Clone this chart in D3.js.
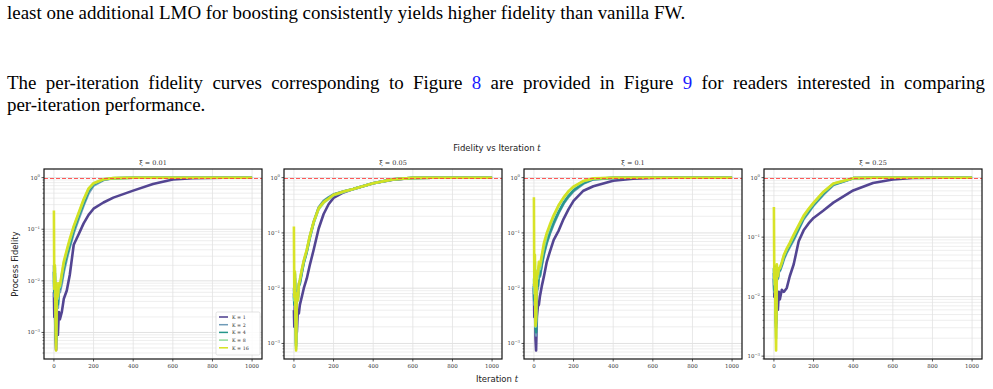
<!DOCTYPE html>
<html>
<head>
<meta charset="utf-8">
<script src="https://cdn.jsdelivr.net/npm/d3@7"></script>
<style>
  body { margin: 0; background: #fff; }
  svg { display: block; }
  .para { font-family: "Liberation Serif", "Times New Roman", Times, serif; }
</style>
</head>
<body>
<div id="chart"></div>
<script>
// iteration grid shared by every curve
const iters = [0, 2, 5, 8, 11, 15, 20, 25, 30, 40, 50, 65, 80, 100, 125, 150, 175, 200, 250, 300, 400, 500, 600, 700, 850, 1000];

const kValues = [1, 2, 4, 8, 16];
const kColors = ["#4a3b8c", "#6f9bb8", "#24968a", "#8edc98", "#d6e21c"];
const xiValues = ["0.01", "0.05", "0.1", "0.25"];
const xTicks = [0, 200, 400, 600, 800, 1000];

// xi = 0.01
const xi001_k1 = [0.006, 0.002, 0.004, 0.0008, 0.00046, 0.0015, 0.0009, 0.0025, 0.0018, 0.0025, 0.0045, 0.0065, 0.013, 0.05, 0.08, 0.13, 0.19, 0.25, 0.33, 0.41, 0.56, 0.75, 0.92, 0.98, 0.995, 0.995];
const xi001_k2 = [0.02, 0.005, 0.012, 0.002, 0.0006, 0.004, 0.003, 0.006, 0.006, 0.009, 0.015, 0.027, 0.045, 0.085, 0.16, 0.29, 0.5, 0.7, 0.9, 0.97, 0.993, 0.995, 0.995, 0.995, 0.995, 0.995];
const xi001_k4 = [0.015, 0.006, 0.014, 0.0025, 0.0007, 0.005, 0.0035, 0.007, 0.007, 0.011, 0.018, 0.031, 0.05, 0.095, 0.18, 0.32, 0.55, 0.74, 0.92, 0.975, 0.994, 0.995, 0.995, 0.995, 0.995, 0.995];
const xi001_k8 = [0.01, 0.007, 0.018, 0.003, 0.0005, 0.007, 0.0045, 0.008, 0.0075, 0.013, 0.022, 0.037, 0.06, 0.11, 0.2, 0.36, 0.6, 0.77, 0.93, 0.98, 0.995, 0.995, 0.995, 0.995, 0.995, 0.995];
const xi001_k16 = [0.23, 0.007, 0.02, 0.003, 0.00045, 0.009, 0.005, 0.009, 0.008, 0.014, 0.024, 0.04, 0.065, 0.115, 0.21, 0.38, 0.62, 0.78, 0.93, 0.98, 0.995, 0.995, 0.995, 0.995, 0.995, 0.995];

// xi = 0.05
const xi005_k1 = [0.004, 0.002, 0.006, 0.003, 0.0025, 0.0016, 0.004, 0.0035, 0.005, 0.007, 0.01, 0.015, 0.026, 0.05, 0.12, 0.22, 0.33, 0.43, 0.54, 0.62, 0.79, 0.92, 0.985, 0.995, 0.995, 0.995];
const xi005_k2 = [0.01, 0.006, 0.018, 0.004, 0.001, 0.009, 0.007, 0.012, 0.013, 0.02, 0.03, 0.047, 0.085, 0.16, 0.29, 0.38, 0.44, 0.5, 0.56, 0.62, 0.79, 0.93, 0.99, 0.995, 0.995, 0.995];
const xi005_k4 = [0.008, 0.005, 0.015, 0.0035, 0.0009, 0.008, 0.0065, 0.011, 0.012, 0.019, 0.029, 0.045, 0.08, 0.155, 0.28, 0.37, 0.43, 0.49, 0.56, 0.62, 0.79, 0.93, 0.99, 0.995, 0.995, 0.995];
const xi005_k8 = [0.007, 0.006, 0.019, 0.003, 0.0008, 0.008, 0.006, 0.012, 0.014, 0.021, 0.031, 0.048, 0.085, 0.155, 0.27, 0.35, 0.41, 0.48, 0.55, 0.62, 0.79, 0.93, 0.99, 0.995, 0.995, 0.995];
const xi005_k16 = [0.13, 0.007, 0.02, 0.003, 0.00075, 0.008, 0.006, 0.012, 0.014, 0.022, 0.032, 0.05, 0.088, 0.16, 0.28, 0.36, 0.42, 0.49, 0.56, 0.62, 0.79, 0.93, 0.99, 0.995, 0.995, 0.995];

// xi = 0.1
const xi010_k1 = [0.01, 0.003, 0.008, 0.0012, 0.00075, 0.003, 0.0047, 0.005, 0.007, 0.011, 0.016, 0.03, 0.045, 0.075, 0.11, 0.18, 0.27, 0.38, 0.58, 0.7, 0.88, 0.96, 0.985, 0.995, 0.995, 0.995];
const xi010_k2 = [0.012, 0.005, 0.02, 0.0025, 0.0014, 0.009, 0.01, 0.016, 0.016, 0.026, 0.04, 0.065, 0.095, 0.145, 0.23, 0.34, 0.45, 0.57, 0.78, 0.93, 0.99, 0.995, 0.995, 0.995, 0.995, 0.995];
const xi010_k4 = [0.011, 0.006, 0.022, 0.0022, 0.0016, 0.011, 0.011, 0.018, 0.017, 0.028, 0.043, 0.07, 0.1, 0.155, 0.24, 0.35, 0.47, 0.59, 0.8, 0.94, 0.99, 0.995, 0.995, 0.995, 0.995, 0.995];
const xi010_k8 = [0.015, 0.008, 0.03, 0.002, 0.0025, 0.016, 0.015, 0.025, 0.022, 0.036, 0.055, 0.09, 0.13, 0.2, 0.31, 0.43, 0.56, 0.68, 0.86, 0.965, 0.995, 0.995, 0.995, 0.995, 0.995, 0.995];
const xi010_k16 = [0.44, 0.011, 0.04, 0.0021, 0.003, 0.02, 0.018, 0.03, 0.025, 0.04, 0.065, 0.1, 0.14, 0.21, 0.32, 0.44, 0.57, 0.69, 0.87, 0.97, 0.995, 0.995, 0.995, 0.995, 0.995, 0.995];

// xi = 0.25
const xi025_k1 = [0.02, 0.01, 0.03, 0.008, 0.0036, 0.008, 0.006, 0.012, 0.009, 0.013, 0.012, 0.014, 0.022, 0.035, 0.085, 0.13, 0.17, 0.21, 0.28, 0.38, 0.61, 0.81, 0.93, 0.985, 0.995, 0.995];
const xi025_k2 = [0.03, 0.012, 0.03, 0.006, 0.0035, 0.025, 0.02, 0.026, 0.027, 0.033, 0.042, 0.055, 0.068, 0.09, 0.135, 0.2, 0.26, 0.34, 0.52, 0.75, 0.98, 0.995, 0.995, 0.995, 0.995, 0.995];
const xi025_k4 = [0.025, 0.013, 0.032, 0.005, 0.003, 0.028, 0.021, 0.028, 0.028, 0.035, 0.045, 0.058, 0.072, 0.095, 0.14, 0.21, 0.27, 0.35, 0.54, 0.77, 0.98, 0.995, 0.995, 0.995, 0.995, 0.995];
const xi025_k8 = [0.03, 0.016, 0.03, 0.005, 0.002, 0.032, 0.022, 0.03, 0.03, 0.037, 0.048, 0.062, 0.077, 0.105, 0.155, 0.22, 0.29, 0.37, 0.57, 0.79, 0.98, 0.995, 0.995, 0.995, 0.995, 0.995];
const xi025_k16 = [0.32, 0.02, 0.03, 0.005, 0.00125, 0.035, 0.022, 0.03, 0.03, 0.038, 0.05, 0.065, 0.08, 0.11, 0.16, 0.23, 0.3, 0.38, 0.58, 0.8, 0.98, 0.995, 0.995, 0.995, 0.995, 0.995];

const panelSeries = [
  [xi001_k1, xi001_k2, xi001_k4, xi001_k8, xi001_k16],
  [xi005_k1, xi005_k2, xi005_k4, xi005_k8, xi005_k16],
  [xi010_k1, xi010_k2, xi010_k4, xi010_k8, xi010_k16],
  [xi025_k1, xi025_k2, xi025_k4, xi025_k8, xi025_k16]
];

const W = 993, H = 389;
const svg = d3.select("#chart").append("svg")
  .attr("width", W).attr("height", H)
  .style("background", "#fff");

// ---- paper text above the figure ----
const para = svg.append("g").attr("class", "para").attr("fill", "#000");

const l1 = para.append("text").attr("x", 7).attr("y", 19)
  .style("font-size", "17.5px")
  .text("least one additional LMO for boosting consistently yields higher fidelity than vanilla FW.");
// size the body font so the first (unjustified) line ends where it does in the page
const fs = 17.5 * 679 / l1.node().getComputedTextLength();
l1.style("font-size", fs + "px");

const l2 = para.append("text").attr("x", 7).attr("y", 89).style("font-size", fs + "px");
l2.append("tspan").text("The per-iteration fidelity curves corresponding to Figure ");
l2.append("tspan").attr("fill", "#1a1aff").text("8");
l2.append("tspan").text(" are provided in Figure ");
l2.append("tspan").attr("fill", "#1a1aff").text("9");
l2.append("tspan").text(" for readers interested in comparing");
// justify: spread the spare width over the word gaps
const spaces = (l2.text().match(/ /g) || []).length;
const spare = 978 - l2.node().getComputedTextLength();
l2.style("word-spacing", (spare / spaces) + "px");

para.append("text").attr("x", 7).attr("y", 111).style("font-size", fs + "px")
  .text("per-iteration performance.");

// ---- figure ----
const sans = "'DejaVu Sans', sans-serif";
const tickFont = "'DejaVu Serif', serif";

const panelLeft = 44, panelStep = 240, panelTop = 169;
const pw = 218, ph = 190;

const title = svg.append("text")
  .attr("x", 497).attr("y", 151)
  .attr("text-anchor", "middle")
  .attr("font-family", sans).attr("font-size", 8.5).attr("fill", "#222");
title.append("tspan").text("Fidelity vs Iteration ");
title.append("tspan").attr("font-family", tickFont).attr("font-style", "italic").text("t");

const xlab = svg.append("text")
  .attr("x", 497).attr("y", 382)
  .attr("text-anchor", "middle")
  .attr("font-family", sans).attr("font-size", 8.5).attr("fill", "#222");
xlab.append("tspan").text("Iteration ");
xlab.append("tspan").attr("font-family", tickFont).attr("font-style", "italic").text("t");

svg.append("text")
  .attr("transform", "translate(18,264) rotate(-90)")
  .attr("text-anchor", "middle")
  .attr("font-family", sans).attr("font-size", 8.5).attr("fill", "#222")
  .text("Process Fidelity");

const x = d3.scaleLinear().domain([-50, 1050]).range([0, pw]);

panelSeries.forEach((seriesList, p) => {
  const g = svg.append("g")
    .attr("transform", `translate(${panelLeft + p * panelStep},${panelTop})`);

  // log-scale limits with 5% padding in log space, like matplotlib
  const allVals = seriesList.flat();
  const lmin = Math.log10(d3.min(allVals));
  const lmax = Math.log10(Math.max(1, d3.max(allVals)));
  const pad = 0.05 * (lmax - lmin);
  const y = d3.scaleLog()
    .domain([Math.pow(10, lmin - pad), Math.pow(10, lmax + pad)])
    .range([ph, 0]);

  const majors = [];
  const minors = [];
  for (let e = -4; e <= 0; e++) {
    const v = Math.pow(10, e);
    if (v >= y.domain()[0] && v <= y.domain()[1]) majors.push(v);
    for (let k = 2; k <= 9; k++) {
      const m = k * v;
      if (m >= y.domain()[0] && m <= y.domain()[1]) minors.push(m);
    }
  }

  // grid
  g.selectAll(".gminor").data(minors).enter().append("line")
    .attr("x1", 0).attr("x2", pw)
    .attr("y1", d => y(d)).attr("y2", d => y(d))
    .attr("stroke", "#e6e6e6").attr("stroke-width", 0.7);
  g.selectAll(".gmajor").data(majors).enter().append("line")
    .attr("x1", 0).attr("x2", pw)
    .attr("y1", d => y(d)).attr("y2", d => y(d))
    .attr("stroke", "#d9d9d9").attr("stroke-width", 0.8);
  g.selectAll(".gx").data(xTicks).enter().append("line")
    .attr("x1", d => x(d)).attr("x2", d => x(d))
    .attr("y1", 0).attr("y2", ph)
    .attr("stroke", "#e2e2e2").attr("stroke-width", 0.8);

  // curves
  const line = d3.line()
    .x((d, i) => x(iters[i]))
    .y(d => y(d));

  const plot = g.append("g");
  seriesList.forEach((vals, s) => {
    plot.append("path")
      .datum(vals)
      .attr("d", line)
      .attr("fill", "none")
      .attr("stroke", kColors[s])
      .attr("stroke-width", 2.6)
      .attr("stroke-linejoin", "round")
      .attr("stroke-opacity", 0.95);
  });

  // target fidelity
  g.append("line")
    .attr("x1", 0).attr("x2", pw)
    .attr("y1", Math.round(y(1)) + 0.5).attr("y2", Math.round(y(1)) + 0.5)
    .attr("stroke", "#ff3b3b").attr("stroke-opacity", 0.85)
    .attr("stroke-width", 1).attr("stroke-dasharray", "4,2");

  // frame
  g.append("rect")
    .attr("width", pw).attr("height", ph)
    .attr("fill", "none").attr("stroke", "#111").attr("stroke-width", 1.2);

  // x ticks
  g.selectAll(".xt").data(xTicks).enter().append("line")
    .attr("x1", d => x(d)).attr("x2", d => x(d))
    .attr("y1", ph).attr("y2", ph + 2.5)
    .attr("stroke", "#111").attr("stroke-width", 0.7);
  g.selectAll(".xl").data(xTicks).enter().append("text")
    .attr("x", d => x(d)).attr("y", ph + 9)
    .attr("text-anchor", "middle")
    .attr("font-family", tickFont).attr("font-size", 5.5).attr("fill", "#333")
    .text(d => d);

  // y ticks
  g.selectAll(".ymt").data(minors).enter().append("line")
    .attr("x1", -1.5).attr("x2", 0)
    .attr("y1", d => y(d)).attr("y2", d => y(d))
    .attr("stroke", "#111").attr("stroke-width", 0.5);
  g.selectAll(".yMt").data(majors).enter().append("line")
    .attr("x1", -2.5).attr("x2", 0)
    .attr("y1", d => y(d)).attr("y2", d => y(d))
    .attr("stroke", "#111").attr("stroke-width", 0.7);
  const yl = g.selectAll(".yl").data(majors).enter().append("text")
    .attr("x", -4).attr("y", d => y(d) + 2)
    .attr("text-anchor", "end")
    .attr("font-family", tickFont).attr("font-size", 5.5).attr("fill", "#333");
  yl.append("tspan").text("10");
  yl.append("tspan")
    .attr("font-size", 3.8).attr("dy", -2.2)
    .text(d => { const e = Math.round(Math.log10(d)); return e === 0 ? "0" : "\u2212" + (-e); });

  // subplot title
  g.append("text")
    .attr("x", pw / 2).attr("y", -4)
    .attr("text-anchor", "middle")
    .attr("font-family", tickFont).attr("font-size", 6.5).attr("fill", "#333")
    .text("\u03be = " + xiValues[p]);

  // legend on the first panel
  if (p === 0) {
    const lg = g.append("g").attr("transform", "translate(172,143)");
    lg.append("rect")
      .attr("width", 44).attr("height", 43).attr("rx", 1.5)
      .attr("fill", "#fff").attr("fill-opacity", 0.85)
      .attr("stroke", "#d0d0d0").attr("stroke-width", 0.6);
    kValues.forEach((k, i) => {
      const yy = 5 + i * 7.7;
      lg.append("line")
        .attr("x1", 3).attr("x2", 12).attr("y1", yy).attr("y2", yy)
        .attr("stroke", kColors[i]).attr("stroke-width", 1.5);
      lg.append("text")
        .attr("x", 16).attr("y", yy + 1.8)
        .attr("font-family", tickFont).attr("font-size", 4.8).attr("fill", "#333")
        .text("K = " + k);
    });
  }
});
</script>
</body>
</html>
